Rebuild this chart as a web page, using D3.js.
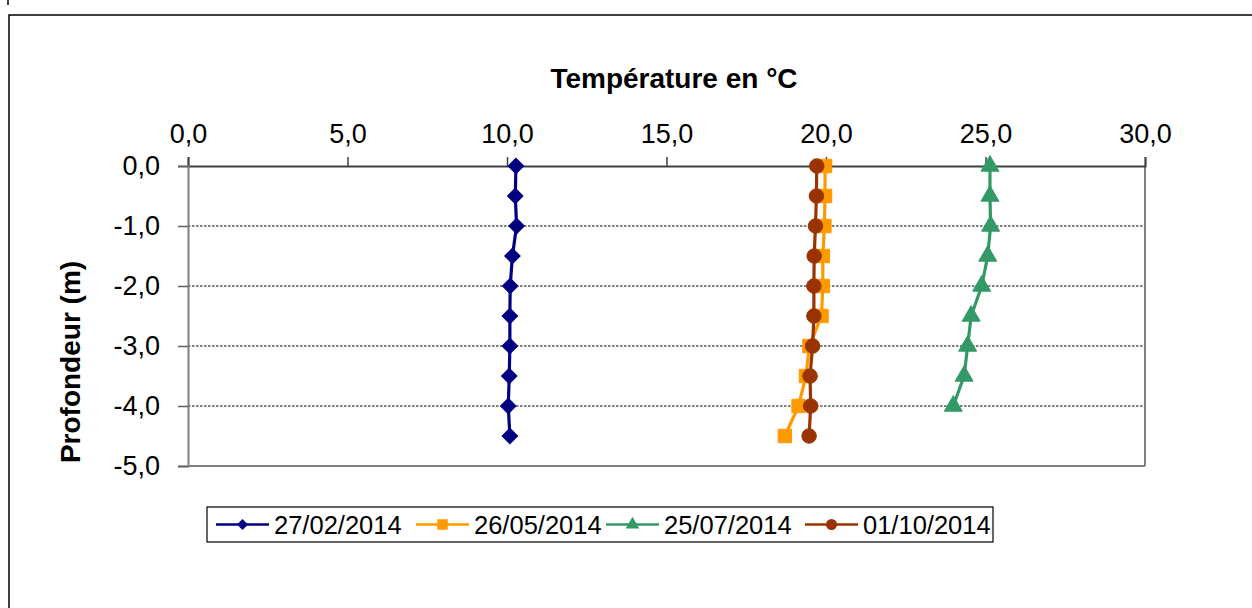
<!DOCTYPE html>
<html>
<head>
<meta charset="utf-8">
<script src="https://cdn.jsdelivr.net/npm/d3@7"></script>
<style>
  html, body { margin: 0; padding: 0; background: #fff; }
  svg { display: block; font-family: "Liberation Sans", Arial, sans-serif; }
</style>
</head>
<body>
<svg id="chart" width="1252" height="608"></svg>
<script>
// ---- Data ----
const depths = [0, -0.5, -1, -1.5, -2, -2.5, -3, -3.5, -4, -4.5];
const seriesNames = ["27/02/2014", "26/05/2014", "25/07/2014", "01/10/2014"];
const temp_27_02 = [10.28, 10.26, 10.30, 10.17, 10.10, 10.09, 10.09, 10.07, 10.04, 10.09];
const temp_26_05 = [19.97, 19.97, 19.95, 19.90, 19.90, 19.86, 19.48, 19.37, 19.14, 18.71];
const temp_25_07 = [25.14, 25.14, 25.16, 25.07, 24.88, 24.55, 24.44, 24.33, 23.99];
const temp_01_10 = [19.71, 19.70, 19.67, 19.63, 19.62, 19.62, 19.58, 19.50, 19.52, 19.47];
const xTicks = [0, 5, 10, 15, 20, 25, 30];
const yTicks = [0, -1, -2, -3, -4, -5];
const xTitle = "Température en °C";
const yTitle = "Profondeur (m)";

const colors = ["#000080", "#FF9900", "#339966", "#993300"];
const symbols = ["diamond", "square", "triangle", "circle"];
const allValues = [temp_27_02, temp_26_05, temp_25_07, temp_01_10];

const svg = d3.select("#chart");

// outer chart frame
svg.append("rect").attr("x", 9).attr("y", 15).attr("width", 1260).attr("height", 620)
  .attr("fill", "none").attr("stroke", "#000").attr("stroke-width", 1.5);
svg.append("line").attr("x1", 8).attr("x2", 8).attr("y1", 0).attr("y2", 5)
  .attr("stroke", "#000").attr("stroke-width", 1.5);

const x = d3.scaleLinear().domain([0, 30]).range([188, 1145]);
const y = d3.scaleLinear().domain([0, -5]).range([166, 466]);
const fmt = v => v.toFixed(1).replace(".", ",").replace("-0,0", "0,0");

// gridlines
svg.append("g").selectAll("line").data(yTicks.filter(t => t !== 0 && t !== -5)).join("line")
  .attr("x1", x(0)).attr("x2", x(30)).attr("y1", d => y(d)).attr("y2", d => y(d))
  .attr("stroke", "#000").attr("stroke-width", 1).attr("stroke-dasharray", "2.5,1.5");

// plot border: right and bottom
svg.append("line").attr("x1", x(30)).attr("x2", x(30)).attr("y1", y(0)).attr("y2", y(-5))
  .attr("stroke", "#808080").attr("stroke-width", 2);
svg.append("line").attr("x1", x(0)).attr("x2", x(30)).attr("y1", y(-5)).attr("y2", y(-5))
  .attr("stroke", "#808080").attr("stroke-width", 2);

// top x axis
const xAxis = d3.axisTop(x).tickValues(xTicks).tickFormat(fmt).tickSize(9).tickPadding(14);
const gx = svg.append("g").attr("transform", `translate(0,${y(0)})`).call(xAxis);
gx.select(".domain").attr("stroke", "#404040").attr("stroke-width", 2);
gx.selectAll(".tick line").attr("stroke", "#404040").attr("stroke-width", 1.5);
gx.selectAll(".tick text").attr("font-size", 27).attr("fill", "#000")
  .attr("font-family", "Liberation Sans, Arial, sans-serif");

// left y axis
const yAxis = d3.axisLeft(y).tickValues(yTicks).tickFormat(fmt).tickSize(10).tickPadding(18);
const gy = svg.append("g").attr("transform", `translate(${x(0)},0)`).call(yAxis);
gy.select(".domain").attr("stroke", "#808080").attr("stroke-width", 2);
gy.selectAll(".tick line").attr("stroke", "#606060").attr("stroke-width", 1.5);
gy.selectAll(".tick text").attr("font-size", 27).attr("fill", "#000")
  .attr("font-family", "Liberation Sans, Arial, sans-serif");

// titles
svg.append("text").attr("x", 674).attr("y", 88).attr("text-anchor", "middle")
  .attr("font-size", 28).attr("font-weight", "bold").text(xTitle);
svg.append("text").attr("transform", "translate(80,362) rotate(-90)").attr("text-anchor", "middle")
  .attr("font-size", 28).attr("font-weight", "bold").text(yTitle);

function symbolPath(name, size) {
  if (name === "diamond") return d3.symbol().type(d3.symbolSquare).size(size)();
  if (name === "square") return d3.symbol().type(d3.symbolSquare).size(size)();
  if (name === "triangle") return d3.symbol().type(d3.symbolTriangle).size(size)();
  return d3.symbol().type(d3.symbolCircle).size(size)();
}
const markerSize = { diamond: 120, square: 180, triangle: 140, circle: 165 };
const legendMarkerSize = { diamond: 60, square: 110, triangle: 80, circle: 95 };

const line = d3.line().x(d => x(d.t)).y(d => y(d.d));

allValues.forEach((vals, i) => {
  const pts = vals.map((t, k) => ({ t, d: depths[k] }));
  const g = svg.append("g");
  g.append("path").datum(pts).attr("d", line).attr("fill", "none")
    .attr("stroke", colors[i]).attr("stroke-width", 3.2);
  g.selectAll("path.m").data(pts).join("path").attr("class", "m")
    .attr("d", symbolPath(symbols[i], markerSize[symbols[i]]))
    .attr("transform", d => `translate(${x(d.t)},${y(d.d)})` + (symbols[i] === "diamond" ? " rotate(45)" : ""))
    .attr("fill", colors[i]).attr("stroke", colors[i]).attr("stroke-width", 1);
});

// legend
const lg = svg.append("g");
lg.append("rect").attr("x", 207).attr("y", 507).attr("width", 786).attr("height", 35)
  .attr("fill", "#fff").attr("stroke", "#000").attr("stroke-width", 1.2);
const legendX = [216, 416, 606, 805];
seriesNames.forEach((name, i) => {
  const gx0 = legendX[i], cy = 524.5;
  lg.append("line").attr("x1", gx0).attr("x2", gx0 + 53).attr("y1", cy).attr("y2", cy)
    .attr("stroke", colors[i]).attr("stroke-width", 2.5);
  lg.append("path").attr("d", symbolPath(symbols[i], legendMarkerSize[symbols[i]]))
    .attr("transform", `translate(${gx0 + 26.5},${cy})` + (symbols[i] === "diamond" ? " rotate(45)" : ""))
    .attr("fill", colors[i]);
  lg.append("text").attr("x", gx0 + 58).attr("y", cy + 9.5).attr("font-size", 25.5)
    .attr("fill", "#000").text(name);
});
</script>
</body>
</html>
